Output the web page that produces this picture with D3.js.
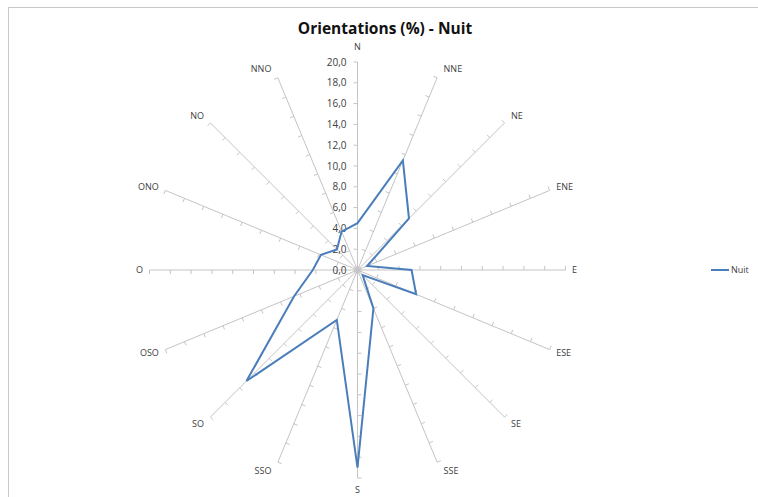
<!DOCTYPE html>
<html>
<head>
<meta charset="utf-8">
<script src="https://cdn.jsdelivr.net/npm/d3@7/dist/d3.min.js"></script>
<style>
  html, body { margin: 0; padding: 0; background: #fff; }
  svg { display: block; }
</style>
</head>
<body>
<svg id="chart" width="758" height="497"></svg>
<script>
// Wind-rose style radar: share of orientations per direction at night
const directions = ["N","NNE","NE","ENE","E","ESE","SE","SSE","S","SSO","SO","OSO","O","ONO","NO","NNO"];
const nuitValues = [4.5, 11.4, 7.0, 1.0, 5.2, 6.1, 0.7, 4.0, 19.0, 5.2, 15.1, 6.6, 4.3, 3.8, 2.8, 4.0];
const tickValues = [0, 2, 4, 6, 8, 10, 12, 14, 16, 18, 20];
const seriesName = "Nuit";
const titleText = "Orientations (%) - Nuit";

const svg = d3.select("#chart");
const cx = 357.5, cy = 270;
const fontFam = "'Open Sans', 'Liberation Sans', sans-serif";

const r = d3.scaleLinear().domain([0, 20]).range([0, 208]);
const angle = d3.scaleLinear().domain([0, directions.length]).range([0, 2 * Math.PI]);
const fmt = v => d3.format(".1f")(v).replace(".", ",");

// chart area frame
svg.append("rect")
  .attr("x", 8.5).attr("y", 7.5)
  .attr("width", 800).attr("height", 600)
  .attr("fill", "none").attr("stroke", "#c8c8c8").attr("stroke-width", 1);

// title
svg.append("text")
  .attr("x", 385).attr("y", 34)
  .attr("text-anchor", "middle")
  .attr("font-family", fontFam)
  .attr("font-weight", "bold")
  .attr("font-size", 15.5)
  .attr("fill", "#111")
  .text(titleText);

const g = svg.append("g").attr("transform", `translate(${cx},${cy})`);

// spokes with tick marks and direction labels
directions.forEach((d, i) => {
  const a = angle(i);
  const ux = Math.sin(a), uy = -Math.cos(a);
  // perpendicular, counter-clockwise side
  const px = -Math.cos(a), py = -Math.sin(a);
  g.append("line")
    .attr("x1", 0).attr("y1", 0)
    .attr("x2", ux * r(20)).attr("y2", uy * r(20))
    .attr("stroke", "#c4c4c4").attr("stroke-width", 1);
  tickValues.forEach(t => {
    const bx = ux * r(t), by = uy * r(t);
    g.append("line")
      .attr("x1", bx).attr("y1", by)
      .attr("x2", bx + px * 4).attr("y2", by + py * 4)
      .attr("stroke", "#c4c4c4").attr("stroke-width", 1);
  });
  const ex = ux * r(20), ey = uy * r(20);
  const label = g.append("text")
    .attr("dy", "0.35em")
    .attr("text-anchor", "middle")
    .attr("font-family", fontFam)
    .attr("font-size", 9)
    .attr("fill", "#404040")
    .text(d);
  const halfW = label.node().getComputedTextLength() / 2;
  const vertical = Math.abs(ux) < 0.1;
  const dx = vertical ? 0 : Math.sign(ux) * (halfW + 6.5);
  const dy = vertical ? (uy < 0 ? -15 : 12) : uy * 9.5;
  label.attr("x", ex + dx).attr("y", ey + dy);
});

// value labels along the N spoke
tickValues.forEach(t => {
  g.append("text")
    .attr("x", -11).attr("y", -r(t))
    .attr("dy", "0.35em")
    .attr("text-anchor", "end")
    .attr("font-family", fontFam)
    .attr("font-size", 10)
    .attr("fill", "#404040")
    .text(fmt(t));
});

// series polygon
const radial = d3.lineRadial()
  .angle((d, i) => angle(i))
  .radius(d => r(d))
  .curve(d3.curveLinearClosed);

g.append("path")
  .datum(nuitValues)
  .attr("d", radial)
  .attr("fill", "none")
  .attr("stroke", "#4a7ebb")
  .attr("stroke-width", 2)
  .attr("stroke-linejoin", "miter");

// legend
const lg = svg.append("g").attr("transform", "translate(711,270)");
lg.append("line").attr("x1", 0).attr("x2", 18).attr("y1", 0).attr("y2", 0)
  .attr("stroke", "#4a7ebb").attr("stroke-width", 2);
lg.append("text").attr("x", 20).attr("y", 0).attr("dy", "0.35em")
  .attr("font-family", fontFam).attr("font-size", 9).attr("fill", "#404040")
  .text(seriesName);
</script>
</body>
</html>
